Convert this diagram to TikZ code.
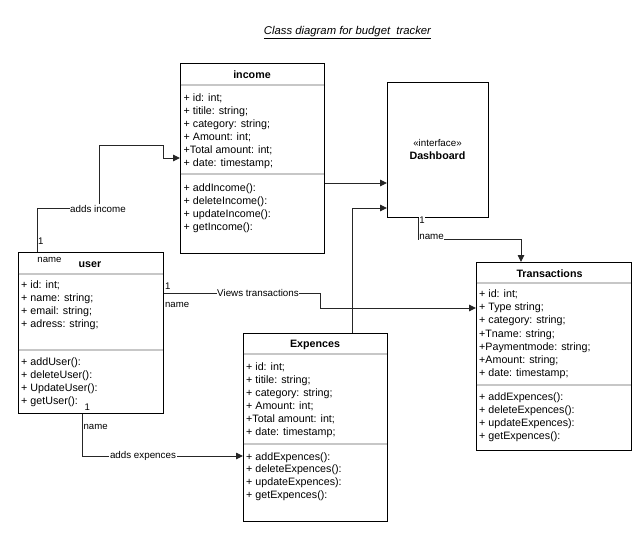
\documentclass[tikz,border=0pt]{standalone}
\usepackage{fontspec}
\setmainfont{Liberation Sans}
\usetikzlibrary{arrows.meta}
\begin{document}
\begin{tikzpicture}[x=1pt,y=-1pt,
  box/.style={draw=black, line width=0.9pt, rectangle, inner sep=0pt, anchor=north west},
  sepline/.style={draw=black!22, line width=1.4pt},
  txt/.style={anchor=base west, inner sep=0pt, font=\fontsize{10.7}{12}\selectfont},
  ttl/.style={anchor=base, inner sep=0pt, font=\fontsize{10.7}{12}\selectfont\bfseries},
  conn/.style={draw=black!85, line width=0.9pt},
  arr/.style={conn, -{Triangle[length=7pt,width=6.5pt]}},
  lbl/.style={fill=white, inner sep=0.6pt, font=\fontsize{9.8}{11}\selectfont},
  mult/.style={inner sep=0.4pt, font=\fontsize{9.6}{11}\selectfont}
]
\useasboundingbox (0,0) rectangle (640,541);

% title
\node[anchor=base, inner sep=0pt, font=\fontsize{11.3}{13}\selectfont\itshape] (title) at (347.5,34.5) {\underline{Class diagram for budget~ tracker}};

% ---------- income ----------
\node[box, minimum width=144pt, minimum height=190pt] (income) at (180,63) {};
\draw[sepline] (180.5,85) -- (323.5,85);
\draw[sepline] (180.5,174) -- (323.5,174);
\node[ttl] (incT) at (252,78) {income};
\foreach \t [count=\i] in {+ id: int;,+ titile: string;,+ category: string;,+ Amount: int;,+Total amount: int;,+ date: timestamp;}
  \node[txt] (incA\i) at (183.5,{101.2+13*(\i-1)}) {\t};
\foreach \t [count=\i] in {+ addIncome():,+ deleteIncome():,+ updateIncome():,+ getIncome():}
  \node[txt] (incM\i) at (183.5,{191.2+13*(\i-1)}) {\t};

% ---------- Dashboard ----------
\node[box, minimum width=101pt, minimum height=135pt] (dash) at (387,82) {};
\node[anchor=base, inner sep=0pt, font=\fontsize{9.8}{11}\selectfont] (dashS) at (437.5,146) {«interface»};
\node[ttl] (dashT) at (437.5,159) {Dashboard};

% ---------- user ----------
\node[box, minimum width=145pt, minimum height=161pt] (user) at (18,252) {};
\draw[sepline] (18.5,274) -- (162.5,274);
\draw[sepline] (18.5,350) -- (162.5,350);
\node[ttl] (userT) at (90,267) {user};
\node[anchor=base, inner sep=0pt, font=\fontsize{9.6}{11}\selectfont] (userN) at (49.5,262.5) {name};
\foreach \t [count=\i] in {+ id: int;,+ name: string;,+ email: string;,+ adress: string;}
  \node[txt] (userA\i) at (21,{288.5+12.9*(\i-1)}) {\t};
\foreach \t [count=\i] in {+ addUser():,+ deleteUser():,+ UpdateUser():,+ getUser():}
  \node[txt] (userM\i) at (21,{365+13.3*(\i-1)}) {\t};

% ---------- Transactions ----------
\node[box, minimum width=155pt, minimum height=188pt] (trans) at (476,262) {};
\draw[sepline] (476.5,283) -- (630.5,283);
\draw[sepline] (476.5,385) -- (630.5,385);
\node[ttl] (transT) at (549.5,277) {Transactions};
\foreach \t [count=\i] in {+ id: int;,+ Type string;,+ category: string;,+Tname: string;,+Paymentmode: string;,+Amount: string;,+ date: timestamp;}
  \node[txt] (transA\i) at (479,{297.5+13.2*(\i-1)}) {\t};
\foreach \t [count=\i] in {+ addExpences():,+ deleteExpences():,+ updateExpences):,+ getExpences():}
  \node[txt] (transM\i) at (479,{400.5+13*(\i-1)}) {\t};

% ---------- Expences ----------
\node[box, minimum width=144pt, minimum height=188pt] (exp) at (243,333) {};
\draw[sepline] (243.5,354) -- (386.5,354);
\draw[sepline] (243.5,444) -- (386.5,444);
\node[ttl] (expT) at (315,347) {Expences};
\foreach \t [count=\i] in {+ id: int;,+ titile: string;,+ category: string;,+ Amount: int;,+Total amount: int;,+ date: timestamp;}
  \node[txt] (expA\i) at (246,{370.5+13*(\i-1)}) {\t};
\foreach \t [count=\i] in {+ addExpences():,+ deleteExpences():,+ updateExpences):,+ getExpences():}
  \node[txt] (expM\i) at (246,{460+12.8*(\i-1)}) {\t};

% ---------- connectors ----------
% user -> income
\coordinate (c1a) at (37,208);
\coordinate (c1b) at (99,208);
\coordinate (c1c) at (99,145);
\coordinate (c1d) at (163,145);
\coordinate (c1e) at (163,158);
\draw[arr] (user.north west -| c1a) -- (c1a) -- (c1b) -- (c1c) -- (c1d) -- (c1e) -- (c1e -| income.west);
\node[lbl] (l1) at (98,208.5) {adds income};
\node[mult, anchor=base west] (m1) at (37.5,244) {1};

% income -> Dashboard
\coordinate (c2) at (324,183);
\draw[arr] (c2 -| income.east) -- (c2 -| dash.west);

% Expences -> Dashboard
\coordinate (c3) at (352,208);
\draw[arr] (exp.north -| c3) -- (c3) -- (c3 -| dash.west);

% Dashboard -> Transactions
\coordinate (c4a) at (418,239);
\coordinate (c4b) at (521,239);
\draw[arr] (dash.south -| c4a) -- (c4a) -- (c4b) -- (c4b |- trans.north);
\node[lbl, anchor=west] (l4) at (418.5,237) {name};
\node[mult, fill=white, anchor=north] (m4) at (422,216.5) {1};

% user -> Transactions
\coordinate (c5a) at (320,293);
\coordinate (c5b) at (320,308);
\draw[arr] (c5a -| user.east) -- (c5a) -- (c5b) -- (c5b -| trans.west);
\node[lbl] (l5) at (258,292.5) {Views transactions};
\node[mult, anchor=base west] (m5) at (164.5,289.5) {1};
\node[mult, anchor=base west] (n5) at (164.5,307) {name};

% user -> Expences
\coordinate (c6a) at (82,456);
\draw[arr] (user.south -| c6a) -- (c6a) -- (c6a -| exp.west);
\node[lbl] (l6) at (143,455.5) {adds expences};
\node[mult, anchor=base west] (m6) at (84,410) {1};
\node[mult, anchor=base west] (n6) at (83,429) {name};

\end{tikzpicture}
\end{document}
